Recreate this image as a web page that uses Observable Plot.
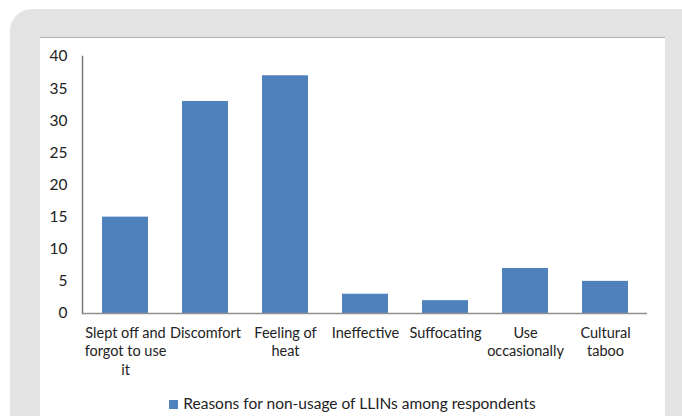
<!DOCTYPE html>
<html><head><meta charset="utf-8">
<script src="https://cdn.jsdelivr.net/npm/d3@7"></script>
<script src="https://cdn.jsdelivr.net/npm/@observablehq/plot@0.6"></script>
<style>
html,body{margin:0;padding:0;background:#fff;width:682px;height:416px;overflow:hidden;}
#bg{position:absolute;left:10px;top:9px;width:700px;height:440px;background:#e3e3e3;border-radius:22px;}
#panel{position:absolute;left:40px;top:37px;width:625px;height:400px;background:#fff;border-top:1px solid #b0b0b0;}
#legend{position:absolute;left:0;top:356px;width:625px;text-align:center;font-family:Lato,sans-serif;font-size:15.5px;color:#222;}
#legend span.sw{display:inline-block;width:9px;height:9px;background:#4f81bd;margin-right:5px;vertical-align:0px;}
</style></head>
<body>
<div id="bg"></div>
<div id="panel"><div id="chart"></div><div id="legend"><span class="sw"></span>Reasons for non-usage of LLINs among respondents</div></div>
<script>
const categories = ["Slept off and\nforgot to use\nit", "Discomfort", "Feeling of\nheat", "Ineffective", "Suffocating", "Use\noccasionally", "Cultural\ntaboo"];
const values = [15, 33, 37, 3, 2, 7, 5];
const yTicks = [0, 5, 10, 15, 20, 25, 30, 35, 40];
const seriesName = "Reasons for non-usage of LLINs among respondents";
const data = categories.map((c, i) => ({category: c, value: values[i]}));

const plot = Plot.plot({
  width: 625,
  height: 355,
  marginLeft: 42,
  marginRight: 18,
  marginTop: 18,
  marginBottom: 80,
  style: {fontFamily: "Lato, sans-serif", fontSize: "15.5px", color: "#222", background: "transparent"},
  x: {domain: categories, paddingInner: 0.43, paddingOuter: 0.215, label: null},
  y: {domain: [0, 40], label: null},
  marks: [
    Plot.barY(data, {x: "category", y: "value", fill: "#4f81bd"}),
    Plot.axisY({ticks: yTicks, tickSize: 0, tickPadding: 15, label: null, fontSize: 15.5}),
    Plot.axisX({tickSize: 0, tickPadding: 12, label: null, lineHeight: 1.25, fontSize: 14.5}),
    Plot.frame({anchor: "left", stroke: "#7a7a7a", strokeWidth: 1.5}),
    Plot.ruleY([0], {stroke: "#909090", strokeWidth: 1.5})
  ]
});
document.getElementById("chart").appendChild(plot);
</script>
</body></html>
